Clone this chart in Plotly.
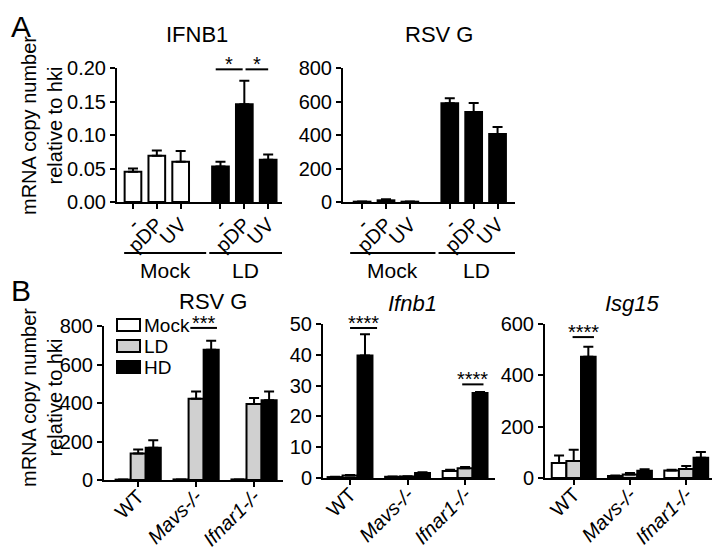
import plotly.graph_objects as go

FONT = "Liberation Sans, Arial, sans-serif"
# the page body keeps its 8px default margin, so the figure is drawn 8px in
OFF = 8
W, H = 720 - OFF, 549 - OFF

# panel A: primary cells, Mock vs LD infection, three treatments each
a_treat = ["-", "pDP", "UV"]
a_groups = ["Mock", "LD"]
ifnb1_mock = [0.045, 0.069, 0.060]
ifnb1_mock_err = [0.005, 0.008, 0.016]
ifnb1_ld = [0.053, 0.146, 0.063]
ifnb1_ld_err = [0.007, 0.035, 0.008]
rsvg_a_mock = [2, 10, 2]
rsvg_a_mock_err = [1, 6, 1]
rsvg_a_ld = [590, 537, 406]
rsvg_a_ld_err = [30, 54, 42]

# panel B: genotypes x dose
b_geno = ["WT", "Mavs-/-", "Ifnar1-/-"]
b_geno_text = ["WT", "<i>Mavs-/-</i>", "<i>Ifnar1-/-</i>"]
b_doses = ["Mock", "LD", "HD"]
b_colors = ["white", "#d0d0d0", "black"]

rsvg_b_mock = [2, 3, 3]
rsvg_b_mock_err = [0, 0, 0]
rsvg_b_ld = [138, 422, 395]
rsvg_b_ld_err = [20, 38, 31]
rsvg_b_hd = [167, 676, 414]
rsvg_b_hd_err = [40, 48, 46]

ifnb1_b_mock = [0.3, 0.4, 2.3]
ifnb1_b_mock_err = [0.1, 0.1, 0.4]
ifnb1_b_ld = [0.8, 0.5, 3.2]
ifnb1_b_ld_err = [0.2, 0.1, 0.4]
ifnb1_b_hd = [39.8, 1.6, 27.6]
ifnb1_b_hd_err = [6.9, 0.3, 0.3]

isg15_mock = [58, 8, 29]
isg15_mock_err = [30, 2, 3]
isg15_ld = [66, 14, 35]
isg15_ld_err = [44, 5, 12]
isg15_hd = [472, 28, 79]
isg15_hd_err = [39, 6, 22]

# significance: (axis no, x from, x to, y, label)
sig = [
    (1, 3.47, 4.6, 0.198, "*"),
    (1, 4.72, 5.67, 0.198, "*"),
    (3, 0.9, 1.36, 790, "***"),
    (4, 0.0, 0.47, 48.7, "****"),
    (4, 1.95, 2.32, 30.4, "****"),
    (5, -0.02, 0.36, 549, "****"),
]


def px(x):
    return (x - OFF) / W


def py(y):
    return 1 - (y - OFF) / H


def bar(x, y, err, fill, n, width=None, og=None):
    return go.Bar(
        x=x, y=y, showlegend=False, width=width, offsetgroup=og,
        marker=dict(color=fill, line=dict(color="black", width=2)),
        error_y=dict(type="data", array=err, arrayminus=[0] * len(err),
                     symmetric=False, color="black", thickness=2, width=5),
        xaxis="x" + ("" if n == 1 else str(n)),
        yaxis="y" + ("" if n == 1 else str(n)),
    )


# panel A bar positions: three per group with a gap between groups
step = len(a_treat) + 0.67
a_x = [[g * step + i for i in range(len(a_treat))] for g in range(len(a_groups))]

fig = go.Figure()
fig.add_trace(bar(a_x[0], ifnb1_mock, ifnb1_mock_err, "white", 1, width=0.7, og="a"))
fig.add_trace(bar(a_x[1], ifnb1_ld, ifnb1_ld_err, "black", 1, width=0.7, og="a"))
fig.add_trace(bar(a_x[0], rsvg_a_mock, rsvg_a_mock_err, "white", 2, width=0.7, og="b"))
fig.add_trace(bar(a_x[1], rsvg_a_ld, rsvg_a_ld_err, "black", 2, width=0.7, og="b"))

b_sets = [
    (3, [rsvg_b_mock, rsvg_b_ld, rsvg_b_hd], [rsvg_b_mock_err, rsvg_b_ld_err, rsvg_b_hd_err]),
    (4, [ifnb1_b_mock, ifnb1_b_ld, ifnb1_b_hd], [ifnb1_b_mock_err, ifnb1_b_ld_err, ifnb1_b_hd_err]),
    (5, [isg15_mock, isg15_ld, isg15_hd], [isg15_mock_err, isg15_ld_err, isg15_hd_err]),
]
for n, vals, errs in b_sets:
    for k in range(3):
        fig.add_trace(bar(b_geno, vals[k], errs[k], b_colors[k], n))

tick_font = dict(size=20, family=FONT, color="black")
base = dict(showline=True, linecolor="black", linewidth=2, ticks="outside",
            tickcolor="black", tickwidth=2, ticklen=5, showgrid=False,
            zeroline=False, tickfont=tick_font, automargin=False, fixedrange=True)

a_tickvals = a_x[0] + a_x[1]
a_ticktext = a_treat * 2

fig.update_layout(
    width=W, height=H, margin=dict(l=0, r=0, t=0, b=0),
    paper_bgcolor="white", plot_bgcolor="white",
    barmode="group", bargap=0.22, bargroupgap=0, showlegend=False,
    font=dict(family=FONT, color="black"),
    xaxis=dict(base, domain=[px(117), px(282)], range=[-0.67, 6.25],
               tickvals=a_tickvals, ticktext=a_ticktext, tickangle=-45,
               ticklabelstandoff=-4, anchor="y"),
    yaxis=dict(base, domain=[py(202), py(68)], range=[0, 0.2],
               tickvals=[0, 0.05, 0.1, 0.15, 0.2], tickformat=".2f", anchor="x"),
    xaxis2=dict(base, domain=[px(343), px(515)], range=[-0.8, 6.4],
                tickvals=a_tickvals, ticktext=a_ticktext, tickangle=-45,
                ticklabelstandoff=-4, anchor="y2"),
    yaxis2=dict(base, domain=[py(202), py(68)], range=[0, 800],
                tickvals=[0, 200, 400, 600, 800], anchor="x2"),
    xaxis3=dict(base, domain=[px(104), px(283)], range=[-0.59, 2.5],
                tickvals=b_geno, ticktext=b_geno_text, tickangle=-45,
                ticklabelstandoff=-10, anchor="y3"),
    yaxis3=dict(base, domain=[py(480), py(326)], range=[0, 800],
                tickvals=[0, 200, 400, 600, 800], anchor="x3"),
    xaxis4=dict(base, domain=[px(323), px(495)], range=[-0.47, 2.52],
                tickvals=b_geno, ticktext=b_geno_text, tickangle=-45,
                ticklabelstandoff=-10, anchor="y4"),
    yaxis4=dict(base, domain=[py(478), py(324)], range=[0, 50],
                tickvals=[0, 10, 20, 30, 40, 50], anchor="x4"),
    xaxis5=dict(base, domain=[px(545), px(720)], range=[-0.51, 2.6],
                tickvals=b_geno, ticktext=b_geno_text, tickangle=-45,
                ticklabelstandoff=-10, anchor="y5"),
    yaxis5=dict(base, domain=[py(478), py(324)], range=[0, 600],
                tickvals=[0, 200, 400, 600], anchor="x5"),
)

ann = []
shapes = []


def text(x, y, s, size=20, **kw):
    kw.setdefault("xanchor", "center")
    kw.setdefault("yanchor", "middle")
    ann.append(dict(x=x, y=y, text=s, showarrow=False,
                    font=dict(size=size, family=FONT, color="black"), **kw))


# panel letters and titles
text(px(9), py(8), "A", size=30, xref="paper", yref="paper",
     xanchor="left", yanchor="top")
text(px(9), py(290), "B", size=30, xref="paper", yref="paper", xanchor="left")
text(px(197), py(35), "IFNB1", size=22, xref="paper", yref="paper")
text(px(439), py(35), "RSV G", size=22, xref="paper", yref="paper")
text(px(213), py(301), "RSV G", size=22, xref="paper", yref="paper")
text(px(412), py(303), "<i>Ifnb1</i>", size=22, xref="paper", yref="paper")
text(px(632), py(303), "<i>Isg15</i>", size=22, xref="paper", yref="paper")

# y titles
for yc in (126, 398):
    text(px(42), py(yc), "mRNA copy number<br>relative to hki", size=20,
         xref="paper", yref="paper", textangle=-90)

# Mock / LD group brackets under panel A
for n, xr in ((1, (-0.67, 6.25)), (2, (-0.8, 6.4))):
    xa = "x" + ("" if n == 1 else str(n))
    bounds = [(xr[0] + 0.3, step - 0.6), (step - 0.47, xr[1])]
    for g, (lo, hi) in enumerate(bounds):
        shapes.append(dict(type="line", xref=xa, yref="paper", x0=lo, x1=hi,
                           y0=py(253), y1=py(253), line=dict(color="black", width=2)))
        text((lo + hi) / 2, py(270), a_groups[g], size=21, xref=xa, yref="paper")

# significance bars
for n, x0, x1, y, s in sig:
    suf = "" if n == 1 else str(n)
    shapes.append(dict(type="line", xref="x" + suf, yref="y" + suf, x0=x0, x1=x1,
                       y0=y, y1=y, line=dict(color="black", width=2)))
    text((x0 + x1) / 2, y, s, size=20, xref="x" + suf, yref="y" + suf,
         yanchor="bottom", yshift=-8)

# dose key inside the panel B RSV G plot
for k, dose in enumerate(b_doses):
    yc = 325 + 21 * k
    shapes.append(dict(type="rect", xref="paper", yref="paper",
                       x0=px(117), x1=px(140), y0=py(yc + 6), y1=py(yc - 6),
                       fillcolor=b_colors[k], line=dict(color="black", width=2)))
    text(px(142), py(yc), dose, size=19, xref="paper", yref="paper",
         xanchor="left")

fig.update_layout(annotations=ann, shapes=shapes)
fig.write_html("out.html")
